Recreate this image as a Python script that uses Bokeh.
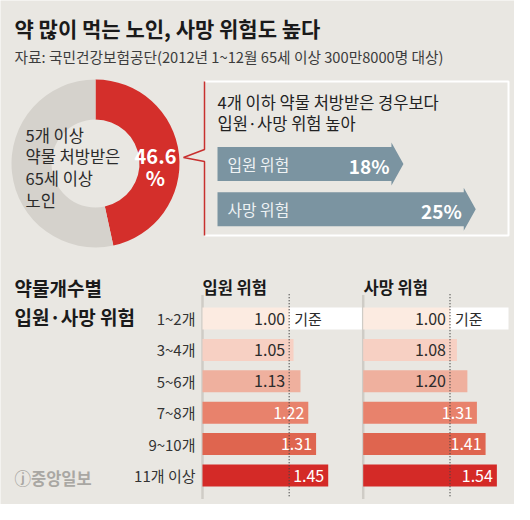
import numpy as np
from bokeh.plotting import figure
from bokeh.models import Range1d
from bokeh.core.properties import value
from bokeh.embed import file_html
from bokeh.resources import INLINE

# ---------------- data ----------------
title = "약 많이 먹는 노인, 사망 위험도 높다"
source_note = "자료: 국민건강보험공단(2012년 1~12월 65세 이상 300만8000명 대상)"
donut_share = 46.6          # % of 65+ prescribed 5+ drugs
donut_text = ["5개 이상", "약물 처방받은", "65세 이상", "노인"]
box_text = ["4개 이하 약물 처방받은 경우보다", "입원·사망 위험 높아"]
arrow_labels = ["입원 위험", "사망 위험"]
arrow_values = [18, 25]     # % higher risk
categories = ["1~2개", "3~4개", "5~6개", "7~8개", "9~10개", "11개 이상"]
admission = [1.00, 1.05, 1.13, 1.22, 1.31, 1.45]
mortality = [1.00, 1.08, 1.20, 1.31, 1.41, 1.54]
panel_titles = ["입원 위험", "사망 위험"]
section_title = ["약물개수별", "입원·사망 위험"]
baseline_label = "기준"
logo = "ⓙ중앙일보"

# ---------------- style ----------------
FONT = value("Noto Sans CJK KR")
BG = "#e9e7e2"
RED = "#d42f2b"
GRAY_RING = "#d5d2cc"
ARROW = "#7b94a1"
DARK = "#2b2b2b"
bar_colors = ["#fcebe1", "#f7d0c3", "#efb09e", "#e8826c", "#df654f", "#d42a27"]
label_colors = [DARK, DARK, DARK, "white", "white", "white"]

W, H = 514, 504
X0, X1 = 8, 522          # reference pixel window shown
TOP = 520                # y flip helper


def Y(py):
    return TOP - py


p = figure(width=W, height=H, output_backend="svg", toolbar_location=None,
           x_range=Range1d(X0, X1), y_range=Range1d(TOP - 512, TOP - 8),
           min_border=0, outline_line_color=None,
           background_fill_color=BG, border_fill_color=BG)
p.axis.visible = False
p.grid.visible = False


def lin_range(px0, px_per_unit, lo=X0, hi=X1):
    return Range1d((lo - px0) / px_per_unit, (hi - px0) / px_per_unit)


p.extra_x_ranges = {
    "adm": lin_range(210, 86.7),
    "mort": lin_range(370.7, 86.8),
    "pct": lin_range(225, 10.33),
}
row0_px, row_step = 326, 31.4
p.extra_y_ranges = {"rows": Range1d((512 - row0_px) / row_step, (8 - row0_px) / row_step)}

# ---------------- title ----------------
p.text(x=[22], y=[Y(35)], text=[title], text_font=FONT, text_font_size="21px",
       text_font_style="bold", text_color="#1a1a1a", text_baseline="middle")
p.text(x=[22], y=[Y(64)], text=[source_note], text_font=FONT, text_font_size="14.7px",
       text_color="#3c3c3c", text_baseline="middle")

# ---------------- donut ----------------
cx, cy, r_in, r_out = 103, Y(171), 44, 84
frac = donut_share / 100.0
start_red = np.pi / 2 - frac * 2 * np.pi
p.annular_wedge(x=[cx, cx], y=[cy, cy], inner_radius=r_in, outer_radius=r_out,
                start_angle=[start_red, np.pi / 2],
                end_angle=[np.pi / 2, start_red + 2 * np.pi],
                fill_color=[RED, GRAY_RING], line_color=None)
for i, t in enumerate(donut_text):
    p.text(x=[33], y=[Y(142 + 21.7 * i)], text=[t], text_font=FONT,
           text_font_size="16.5px", text_color=DARK, text_baseline="middle")
p.text(x=[163, 163], y=[Y(164), Y(185)], text=[f"{donut_share:.1f}", "%"],
       text_font=FONT, text_font_size="20px", text_font_style="bold",
       text_color="white", text_align="center", text_baseline="middle")

# ---------------- callout box ----------------
p.line(x=[212, 516, 516, 212], y=[Y(89), Y(89), Y(243), Y(243)],
       line_color="white", line_width=2)
p.line(x=[212, 212, 191, 212, 212], y=[Y(89), Y(157), Y(165), Y(169), Y(243)],
       line_color="#c8302f", line_width=1.5)
for i, t in enumerate(box_text):
    p.text(x=[225], y=[Y(109 + 21.5 * i)], text=[t], text_font=FONT,
           text_font_size="16.5px", text_color="#222222", text_baseline="middle")

# arrows (length proportional to value)
head_len = 12 / 10.33
arrow_mid = [171.5, 216.7]
body_half, head_half = 17, 21.5
xs, ys = [], []
for v, m in zip(arrow_values, arrow_mid):
    xs.append([0, v - head_len, v - head_len, v, v - head_len, v - head_len, 0])
    ys.append([Y(m - body_half), Y(m - body_half), Y(m - head_half), Y(m),
               Y(m + head_half), Y(m + body_half), Y(m + body_half)])
p.patches(xs=xs, ys=ys, fill_color=ARROW, line_color=None, x_range_name="pct")
for lab, v, m in zip(arrow_labels, arrow_values, arrow_mid):
    p.text(x=[10 / 10.33], y=[Y(m)], text=[lab], text_font=FONT, text_font_size="15.8px",
           text_color="#eef2f4", text_baseline="middle", x_range_name="pct")
    p.text(x=[v - head_len], y=[Y(m + 1)], text=[f"{v}%"], text_font=FONT,
           text_font_size="19px", text_font_style="bold", text_color="white",
           text_align="right", text_baseline="middle", x_offset=-2, x_range_name="pct")

# ---------------- bar section ----------------
p.text(x=[22, 22], y=[Y(295), Y(324)], text=section_title, text_font=FONT,
       text_font_size="19px", text_font_style="bold", text_color="#1a1a1a",
       text_baseline="middle")
p.text(x=[22], y=[Y(485)], text=[logo], text_font=FONT, text_font_size="16.5px",
       text_font_style="bold", text_color="#a9a7a3", text_baseline="middle")

idx = list(range(len(categories)))
p.text(x=[203] * len(categories), y=idx, text=categories, text_font=FONT,
       text_font_size="15px", text_color="#333333", text_align="right",
       text_baseline="middle", y_range_name="rows")

band_end = {"adm": 1.845, "mort": 1.674}
panel_title_x = {"adm": 210, "mort": 371}
for key, vals, ptitle in [("adm", admission, panel_titles[0]),
                          ("mort", mortality, panel_titles[1])]:
    p.text(x=[panel_title_x[key]], y=[Y(294)], text=[ptitle], text_font=FONT,
           text_font_size="16.5px", text_font_style="bold", text_color="#1a1a1a",
           text_baseline="middle")
    # left edge shadow
    p.segment(x0=[0], x1=[0], y0=[-0.75], y1=[5.75], line_color="#cfccc6",
              line_width=2.5, x_range_name=key, y_range_name="rows")
    # white baseline band on first row
    p.hbar(y=[0], left=[vals[0]], right=[band_end[key]], height=0.7,
           fill_color="white", line_color=None, x_range_name=key, y_range_name="rows")
    p.hbar(y=idx, left=0, right=vals, height=0.7, fill_color=bar_colors,
           line_color=None, x_range_name=key, y_range_name="rows")
    p.segment(x0=[1.0], x1=[1.0], y0=[-0.77], y1=[5.7], line_color="#444444",
              line_width=1.3, line_dash="1 2", x_range_name=key, y_range_name="rows")
    anchor = [1.0 if i < 3 else v for i, v in enumerate(vals)]
    p.text(x=anchor, y=idx, text=[f"{v:.2f}" for v in vals], text_font=FONT,
           text_font_size="16px", text_color=label_colors, text_align="right",
           text_baseline="middle", x_offset=-4, x_range_name=key, y_range_name="rows")
    p.text(x=[1.0], y=[0], text=[baseline_label], text_font=FONT, text_font_size="15px",
           text_color=DARK, text_baseline="middle", x_offset=5,
           x_range_name=key, y_range_name="rows")

html = file_html(p, INLINE)
html = html.replace("<body>", '<body style="background:%s">' % BG, 1)
open("out.html", "w").write(html)
